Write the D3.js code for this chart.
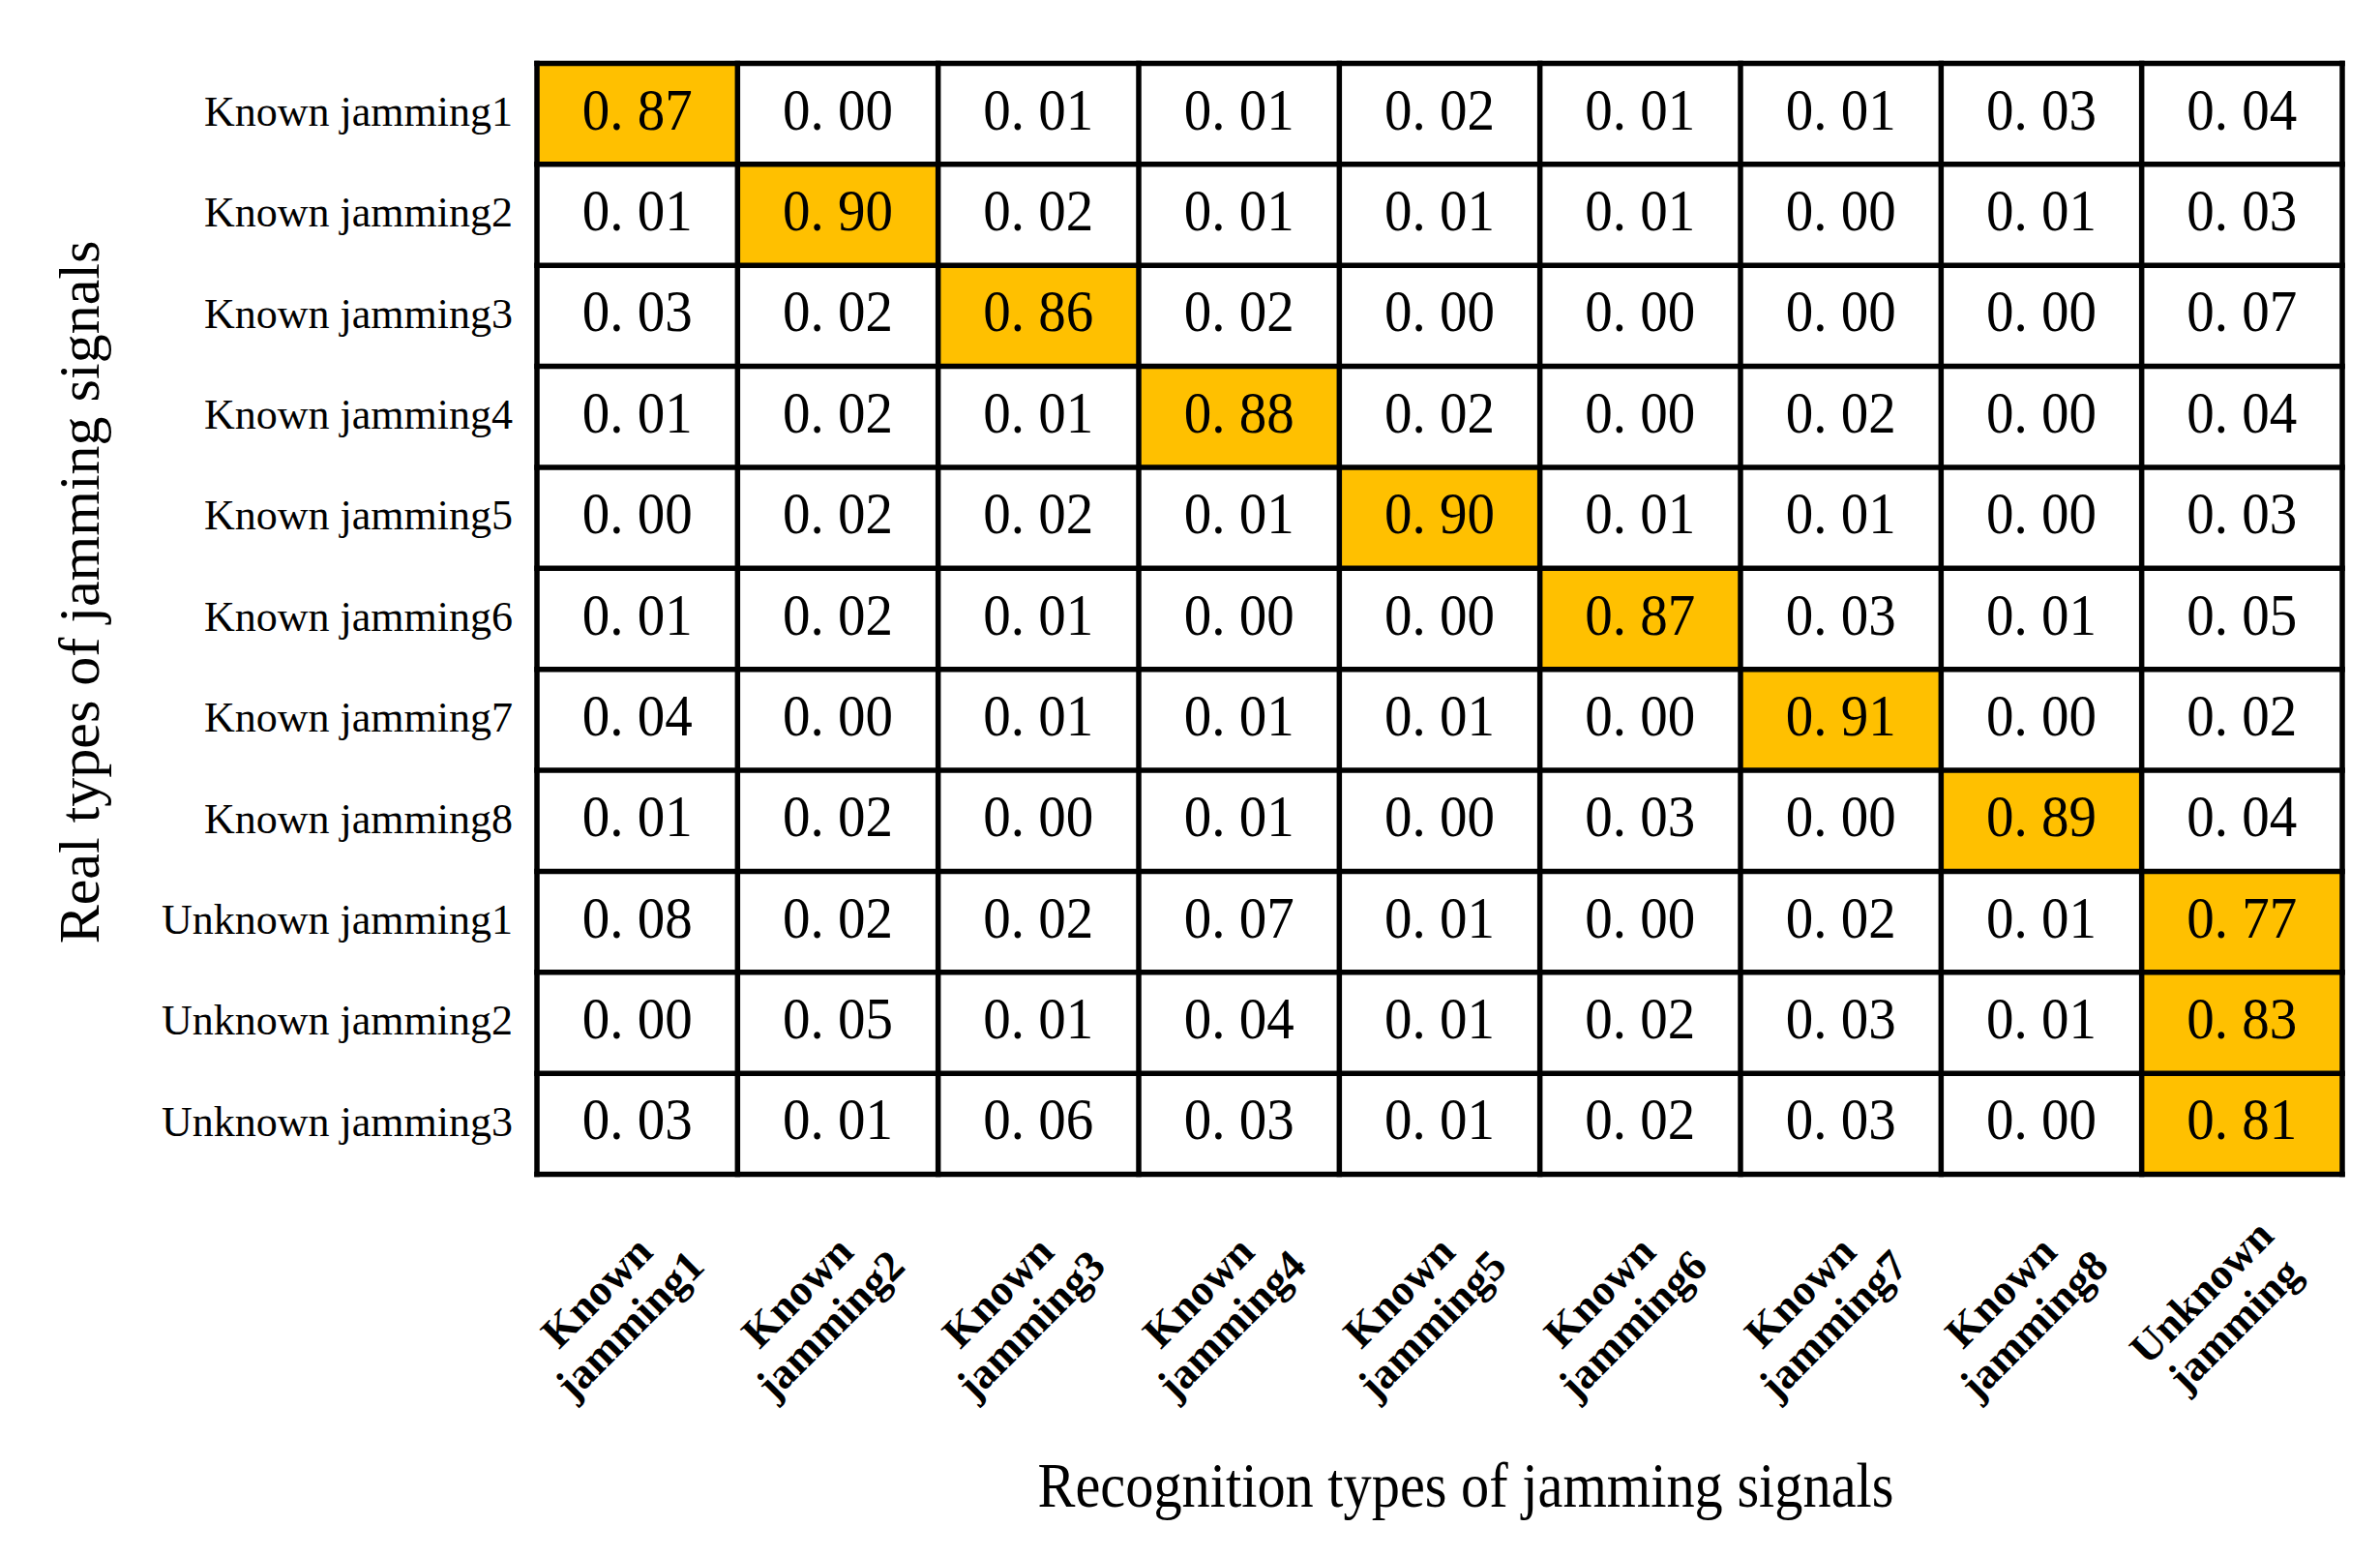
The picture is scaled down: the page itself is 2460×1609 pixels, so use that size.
<!DOCTYPE html>
<html>
<head>
<script src="https://d3js.org/d3.v7.min.js"></script>
<style>
body {
  margin: 0;
  background: white;
  font-family: "Liberation Serif", "Times New Roman", serif;
}
</style>
<title>Jamming recognition confusion matrix</title>
</head>
<body>
<div id="chart"></div>
<script>
  // row labels (real types) and column labels (recognition types)
  const rowNames = ["Known jamming1", "Known jamming2", "Known jamming3", "Known jamming4",
    "Known jamming5", "Known jamming6", "Known jamming7", "Known jamming8",
    "Unknown jamming1", "Unknown jamming2", "Unknown jamming3"];
  const colNames = ["Known jamming1", "Known jamming2", "Known jamming3", "Known jamming4",
    "Known jamming5", "Known jamming6", "Known jamming7", "Known jamming8",
    "Unknown jamming"];

  // one array per row of the matrix
  const kj1 = [0.87, 0.00, 0.01, 0.01, 0.02, 0.01, 0.01, 0.03, 0.04];
  const kj2 = [0.01, 0.90, 0.02, 0.01, 0.01, 0.01, 0.00, 0.01, 0.03];
  const kj3 = [0.03, 0.02, 0.86, 0.02, 0.00, 0.00, 0.00, 0.00, 0.07];
  const kj4 = [0.01, 0.02, 0.01, 0.88, 0.02, 0.00, 0.02, 0.00, 0.04];
  const kj5 = [0.00, 0.02, 0.02, 0.01, 0.90, 0.01, 0.01, 0.00, 0.03];
  const kj6 = [0.01, 0.02, 0.01, 0.00, 0.00, 0.87, 0.03, 0.01, 0.05];
  const kj7 = [0.04, 0.00, 0.01, 0.01, 0.01, 0.00, 0.91, 0.00, 0.02];
  const kj8 = [0.01, 0.02, 0.00, 0.01, 0.00, 0.03, 0.00, 0.89, 0.04];
  const uj1 = [0.08, 0.02, 0.02, 0.07, 0.01, 0.00, 0.02, 0.01, 0.77];
  const uj2 = [0.00, 0.05, 0.01, 0.04, 0.01, 0.02, 0.03, 0.01, 0.83];
  const uj3 = [0.03, 0.01, 0.06, 0.03, 0.01, 0.02, 0.03, 0.00, 0.81];
  const matrix = [kj1, kj2, kj3, kj4, kj5, kj6, kj7, kj8, uj1, uj2, uj3];

  const xTitle = "Recognition types of jamming signals";
  const yTitle = "Real types of jamming signals";

  const width = 2460;
  const height = 1609;
  const gridLeft = 555;
  const gridRight = 2421;
  const gridTop = 65.5;
  const gridBottom = 1213.5;
  const lineW = 5.5;
  const highlight = "#FFC000";

  const cells = [];
  matrix.forEach((row, i) => {
    const mx = d3.max(row);
    row.forEach((v, j) => cells.push({row: rowNames[i], col: colNames[j], value: v, top: v === mx}));
  });

  const x = d3.scaleBand()
    .domain(colNames)
    .range([gridLeft, gridRight]);

  const y = d3.scaleBand()
    .domain(rowNames)
    .range([gridTop, gridBottom]);

  const fmt = v => d3.format(".2f")(v).replace(".", ". ");

  const svg = d3.create("svg")
    .attr("width", width)
    .attr("height", height)
    .attr("viewBox", [0, 0, width, height]);

  svg.append("rect")
    .attr("width", width)
    .attr("height", height)
    .attr("fill", "white");

  // cells
  svg.append("g")
    .selectAll("rect")
    .data(cells)
    .join("rect")
      .attr("x", d => x(d.col))
      .attr("y", d => y(d.row))
      .attr("width", x.bandwidth())
      .attr("height", y.bandwidth())
      .attr("fill", d => d.top ? highlight : "white");

  // grid lines
  const grid = svg.append("g")
    .attr("stroke", "black")
    .attr("stroke-width", lineW)
    .attr("stroke-linecap", "square");

  grid.selectAll("line.v")
    .data(colNames.concat([null]))
    .join("line")
      .attr("class", "v")
      .attr("x1", d => d === null ? gridRight : x(d))
      .attr("x2", d => d === null ? gridRight : x(d))
      .attr("y1", gridTop)
      .attr("y2", gridBottom);

  grid.selectAll("line.h")
    .data(rowNames.concat([null]))
    .join("line")
      .attr("class", "h")
      .attr("y1", d => d === null ? gridBottom : y(d))
      .attr("y2", d => d === null ? gridBottom : y(d))
      .attr("x1", gridLeft)
      .attr("x2", gridRight);

  // values
  svg.append("g")
    .selectAll("text")
    .data(cells)
    .join("text")
      .attr("x", d => x(d.col) + x.bandwidth() / 2)
      .attr("y", d => y(d.row) + y.bandwidth() / 2 + 16)
      .attr("text-anchor", "middle")
      .attr("font-size", 62)
      .attr("textLength", 114)
      .attr("lengthAdjust", "spacingAndGlyphs")
      .attr("fill", "black")
      .text(d => fmt(d.value));

  // row labels
  svg.append("g")
    .attr("transform", `translate(${gridLeft - 3},0)`)
    .call(d3.axisLeft(y).tickSize(0).tickPadding(22))
    .call(g => g.select(".domain").remove())
    .call(g => g.selectAll(".tick text")
      .attr("font-family", "Liberation Serif, serif")
      .attr("font-size", 44)
      .attr("fill", "black")
      .attr("dy", "0.28em"));

  // column labels, two lines, rotated
  const colLab = svg.append("g")
    .selectAll("g")
    .data(colNames)
    .join("g")
      .attr("transform", d => `translate(${x(d) + x.bandwidth() / 2 - 25},1352) rotate(-45)`);

  colLab.selectAll("text")
    .data(d => d.split(" "))
    .join("text")
      .attr("x", 0)
      .attr("y", (d, i) => (i - 0.5) * 48 + 15)
      .attr("text-anchor", "middle")
      .attr("font-size", 45)
      .attr("font-weight", "bold")
      .attr("fill", "black")
      .text(d => d);

  // axis titles
  svg.append("text")
    .attr("x", 1515)
    .attr("y", 1557)
    .attr("text-anchor", "middle")
    .attr("font-size", 66)
    .attr("textLength", 885)
    .attr("lengthAdjust", "spacingAndGlyphs")
    .attr("fill", "black")
    .text(xTitle);

  svg.append("text")
    .attr("transform", "translate(102,612) rotate(-90)")
    .attr("text-anchor", "middle")
    .attr("font-size", 60)
    .attr("fill", "black")
    .text(yTitle);

  document.getElementById("chart").appendChild(svg.node());
</script>
</body>
</html>
